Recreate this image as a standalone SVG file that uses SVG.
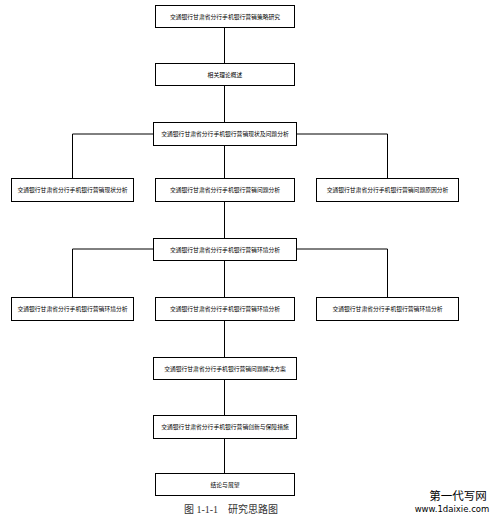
<svg xmlns="http://www.w3.org/2000/svg" width="499" height="520" viewBox="0 0 499 520">
<style>
.b rect{fill:#fff;stroke:#000;stroke-width:1}
.b text{font-family:"Noto Sans CJK SC",sans-serif;font-size:5.8px;text-anchor:middle;fill:#000}
.c{stroke:#000;stroke-width:1;fill:none}
</style>
<rect width="499" height="520" fill="#fff"/>
<g id="connectors" class="c">
<path d="M224.5 27V63M224.5 85V122M224.5 145V178M224.5 201V238M224.5 260V297M224.5 320V357M224.5 379V415M224.5 438V473"/>
<path d="M153 134H72.5V178M297 134H387.5V178"/>
<path d="M153 249H72.5V297M297 249H387.5V297"/>
</g>
<g id="n1" class="b"><rect x="155.5" y="5.5" width="139" height="22"/><text x="225" y="18.5">交通银行甘肃省分行手机银行营销策略研究</text></g>
<g id="n2" class="b"><rect x="155.5" y="63.5" width="139" height="22"/><text x="225" y="76.5">相关理论概述</text></g>
<g id="n3" class="b"><rect x="153.5" y="122.5" width="143" height="23"/><text x="225" y="136">交通银行甘肃省分行手机银行营销现状及问题分析</text></g>
<g id="n4" class="b"><rect x="11.5" y="178.5" width="122" height="23"/><text x="72.5" y="192">交通银行甘肃省分行手机银行营销现状分析</text></g>
<g id="n5" class="b"><rect x="155.5" y="178.5" width="139" height="23"/><text x="225" y="192">交通银行甘肃省分行手机银行营销问题分析</text></g>
<g id="n6" class="b"><rect x="316.5" y="178.5" width="142" height="23"/><text x="387.5" y="192">交通银行甘肃省分行手机银行营销问题原因分析</text></g>
<g id="n7" class="b"><rect x="153.5" y="238.5" width="143" height="22"/><text x="225" y="251.5">交通银行甘肃省分行手机银行营销环境分析</text></g>
<g id="n8" class="b"><rect x="11.5" y="297.5" width="122" height="23"/><text x="72.5" y="311">交通银行甘肃省分行手机银行营销环境分析</text></g>
<g id="n9" class="b"><rect x="155.5" y="297.5" width="139" height="23"/><text x="225" y="311">交通银行甘肃省分行手机银行营销环境分析</text></g>
<g id="n10" class="b"><rect x="316.5" y="297.5" width="142" height="23"/><text x="387.5" y="311">交通银行甘肃省分行手机银行营销环境分析</text></g>
<g id="n11" class="b"><rect x="153.5" y="357.5" width="143" height="22"/><text x="225" y="370.5">交通银行甘肃省分行手机银行营销问题解决方案</text></g>
<g id="n12" class="b"><rect x="153.5" y="415.5" width="143" height="23"/><text x="225" y="429">交通银行甘肃省分行手机银行营销创新与保障措施</text></g>
<g id="n13" class="b"><rect x="155.5" y="473.5" width="139" height="22"/><text x="225" y="486.5">结论与展望</text></g>
<text x="231" y="513" font-family="'Liberation Serif','Noto Sans CJK SC',serif" font-size="10" text-anchor="middle" fill="#333">图 1-1-1　研究思路图</text>
<text x="458" y="500" font-family="'Noto Sans CJK SC',sans-serif" font-size="11.5" text-anchor="middle" fill="#000">第一代写网</text>
<text x="452" y="512" font-family="'DejaVu Sans',sans-serif" font-size="8.5" text-anchor="middle" fill="#000">www.1daixie.com</text>
</svg>
